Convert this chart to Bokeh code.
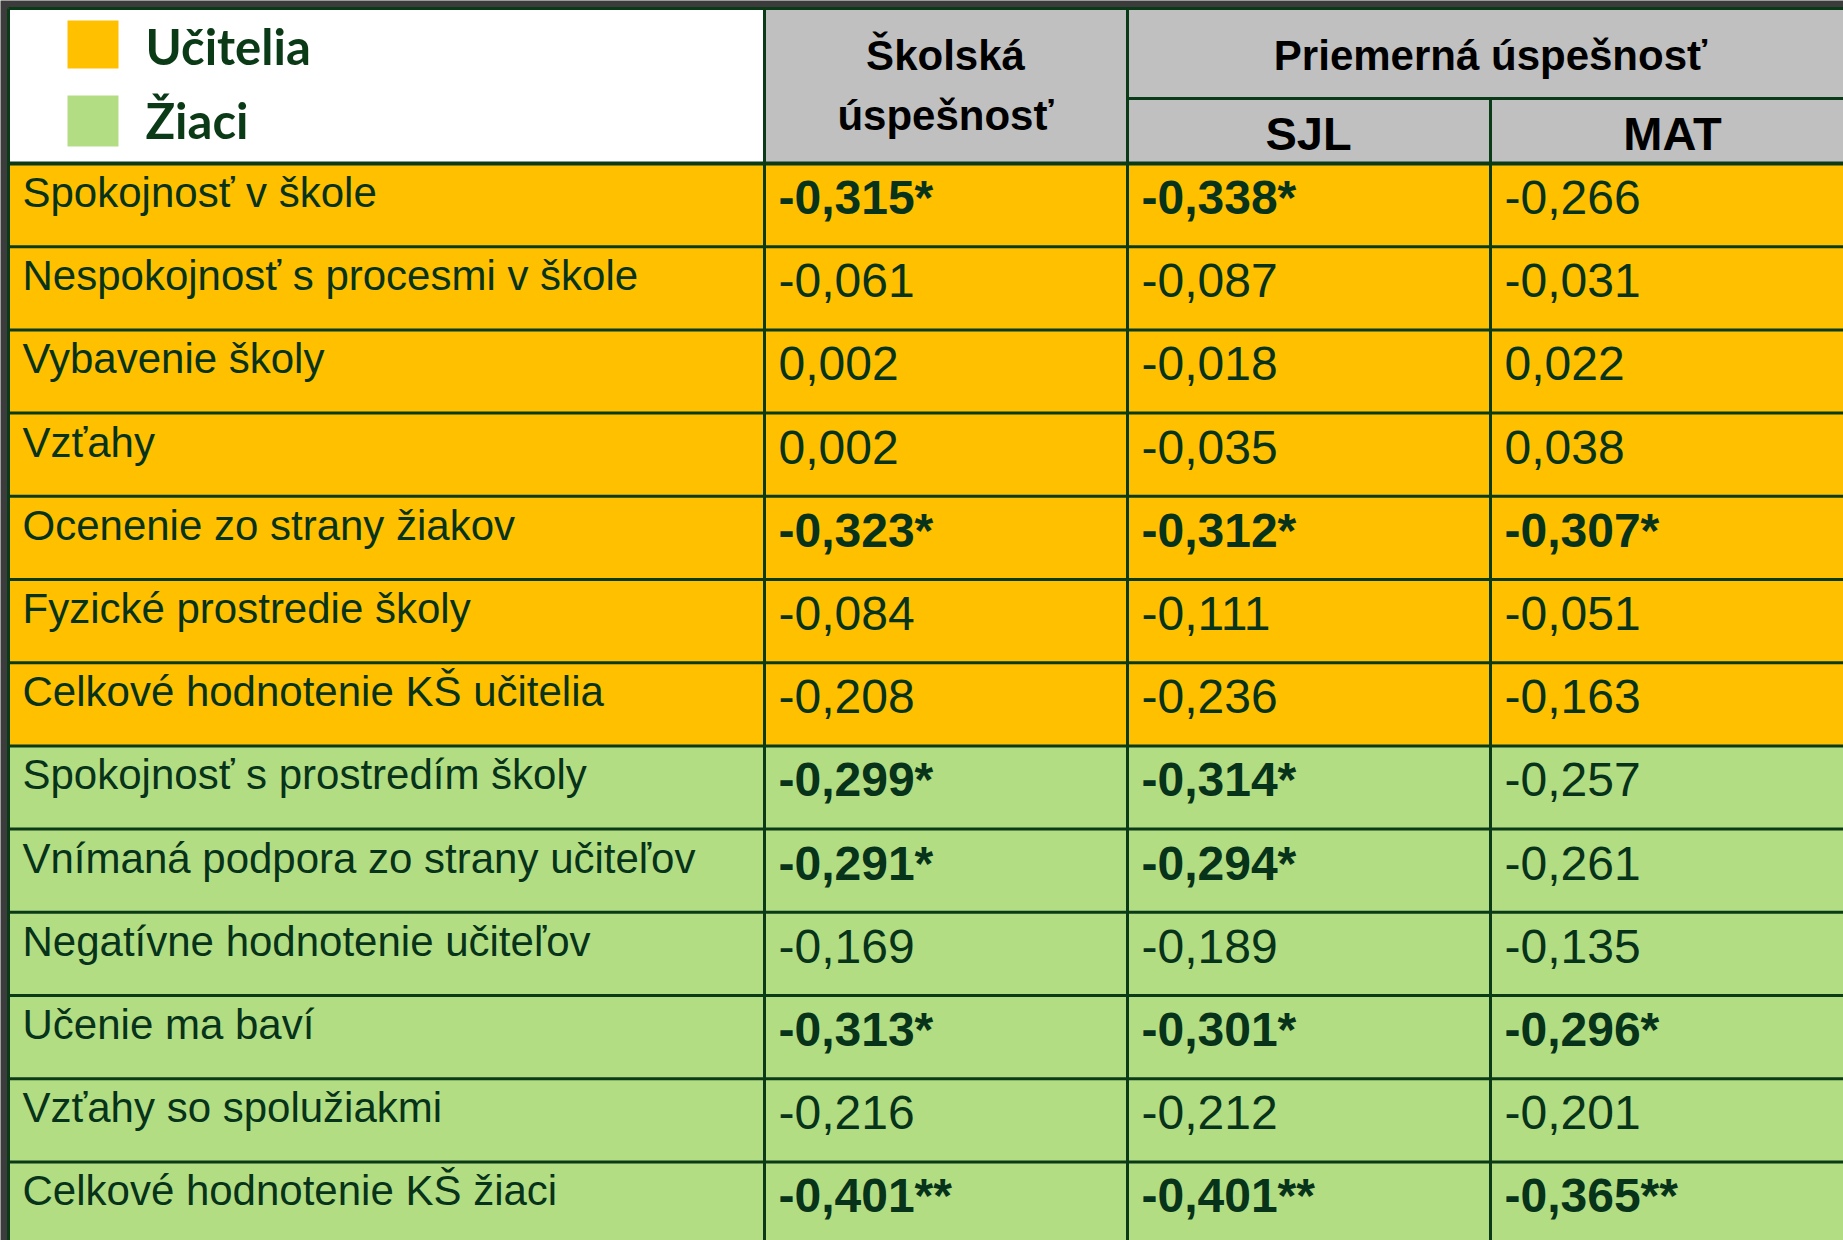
from bokeh.plotting import figure
from bokeh.models import Range1d
from bokeh.core.properties import value
from bokeh.embed import file_html
from bokeh.resources import INLINE

# ---------------- data ----------------
labels = [
    "Spokojnosť v škole",
    "Nespokojnosť s procesmi v škole",
    "Vybavenie školy",
    "Vzťahy",
    "Ocenenie zo strany žiakov",
    "Fyzické prostredie školy",
    "Celkové hodnotenie KŠ učitelia",
    "Spokojnosť s prostredím školy",
    "Vnímaná podpora zo strany učiteľov",
    "Negatívne hodnotenie učiteľov",
    "Učenie ma baví",
    "Vzťahy so spolužiakmi",
    "Celkové hodnotenie KŠ žiaci",
]
groups = ["Učitelia"] * 7 + ["Žiaci"] * 6
legend_names = ["Učitelia", "Žiaci"]

skolska = [-0.315, -0.061, 0.002, 0.002, -0.323, -0.084, -0.208,
           -0.299, -0.291, -0.169, -0.313, -0.216, -0.401]
skolska_sig = ["*", "", "", "", "*", "", "", "*", "*", "", "*", "", "**"]
sjl = [-0.338, -0.087, -0.018, -0.035, -0.312, -0.111, -0.236,
       -0.314, -0.294, -0.189, -0.301, -0.212, -0.401]
sjl_sig = ["*", "", "", "", "*", "", "", "*", "*", "", "*", "", "**"]
mat = [-0.266, -0.031, 0.022, 0.038, -0.307, -0.051, -0.163,
       -0.257, -0.261, -0.135, -0.296, -0.201, -0.365]
mat_sig = ["", "", "", "", "*", "", "", "", "", "", "*", "", "**"]

header_main = ["Školská\núspešnosť", "Priemerná úspešnosť"]
header_sub = ["SJL", "MAT"]

# ---------------- style / layout ----------------
COL = {"Učitelia": "#FFC000", "Žiaci": "#B3DD83"}
HEAD_GRAY = "#C0C0C0"
LINE = "#0A3A17"
TXT = "#07331A"
col_edges = [8, 764, 1127, 1490, 1853]
top, head_bot, sub_line = 8, 163, 98
rh = 83.2

p = figure(width=1843, height=1240, x_range=Range1d(0, 1843), y_range=Range1d(1240, 0),
           output_backend="svg", toolbar_location=None, min_border=0)
p.axis.visible = False
p.grid.visible = False
p.outline_line_color = None
p.background_fill_color = "#3c3c3c"
p.border_fill_color = "#3c3c3c"

n = len(labels)
row_top = [head_bot + i * rh for i in range(n)]
row_bot = [t + rh for t in row_top]

# body cells
p.quad(left=[col_edges[0]] * n, right=[col_edges[-1]] * n, top=row_top, bottom=row_bot,
       fill_color=[COL[g] for g in groups], line_color=None)
# header cells
p.quad(left=[col_edges[0]], right=[col_edges[1]], top=[top], bottom=[head_bot],
       fill_color="white", line_color=None)
p.quad(left=[col_edges[1]], right=[col_edges[-1]], top=[top], bottom=[head_bot],
       fill_color=HEAD_GRAY, line_color=None)

# grid lines
hx0, hx1, hy = [], [], []
for t in row_top[1:] + [row_bot[-1]]:
    hx0.append(col_edges[0]); hx1.append(col_edges[-1]); hy.append(t)
p.segment(x0=hx0, x1=hx1, y0=hy, y1=hy, line_color=LINE, line_width=3)
p.segment(x0=[col_edges[0]], x1=[col_edges[-1]], y0=[head_bot], y1=[head_bot],
          line_color=LINE, line_width=4)
p.segment(x0=[col_edges[0]], x1=[col_edges[-1]], y0=[top], y1=[top], line_color=LINE, line_width=3)
p.segment(x0=[col_edges[2]], x1=[col_edges[-1]], y0=[sub_line], y1=[sub_line],
          line_color=LINE, line_width=3)
vb = row_bot[-1]
p.segment(x0=[col_edges[0], col_edges[1], col_edges[3]], x1=[col_edges[0], col_edges[1], col_edges[3]],
          y0=[top, top, sub_line], y1=[vb, vb, vb], line_color=LINE, line_width=3)
p.segment(x0=[col_edges[2]], x1=[col_edges[2]], y0=[top], y1=[vb], line_color=LINE, line_width=3)

# row labels
p.text(x=[22] * n, y=[t + 29 for t in row_top], text=labels,
       text_font=value("Liberation Sans"), text_font_size="42px",
       text_color=TXT, text_baseline="middle", text_align="left")

# numbers
def fmt(v, s):
    return f"{v:.3f}".replace(".", ",") + s

for ci, (vals, sigs) in enumerate([(skolska, skolska_sig), (sjl, sjl_sig), (mat, mat_sig)]):
    xs = col_edges[ci + 1] + 14
    rx, ry, rt, bx, by, bt = [], [], [], [], [], []
    for i, (v, s) in enumerate(zip(vals, sigs)):
        if s:
            bx.append(xs); by.append(row_top[i] + 34); bt.append(fmt(v, s))
        else:
            rx.append(xs); ry.append(row_top[i] + 34); rt.append(fmt(v, s))
    p.text(x=rx, y=ry, text=rt, text_font=value("Liberation Sans"), text_font_size="48px",
           text_color=TXT, text_baseline="middle", text_align="left")
    p.text(x=bx, y=by, text=bt, text_font=value("Liberation Sans"), text_font_size="48px",
           text_font_style="bold", text_color=TXT, text_baseline="middle", text_align="left")

# headers
hfont = value("Liberation Sans")
p.text(x=[945, 945], y=[55, 115], text=header_main[0].split("\n"), text_font=hfont,
       text_font_size="42px", text_font_style="bold", text_color="black",
       text_baseline="middle", text_align="center")
p.text(x=[1490], y=[55], text=[header_main[1]], text_font=hfont,
       text_font_size="42px", text_font_style="bold", text_color="black",
       text_baseline="middle", text_align="center")
p.text(x=[1308, 1672], y=[133, 133], text=header_sub, text_font=value("Liberation Sans"),
       text_font_size="47px", text_font_style="bold", text_color="black",
       text_baseline="middle", text_align="center")

# legend
p.quad(left=[67, 67], right=[118, 118], top=[20, 95], bottom=[68, 146],
       fill_color=[COL[g] for g in legend_names], line_color=None)
p.text(x=[145, 145], y=[45, 119], text=legend_names, text_font=value("Lato"),
       text_font_size="49px", text_font_style="bold", text_color="#0B3A17",
       text_baseline="middle", text_align="left")

html = file_html(p, INLINE)
html = html.replace("<body>", '<body style="background-color:#3c3c3c;">', 1)
open("out.html", "w").write(html)
